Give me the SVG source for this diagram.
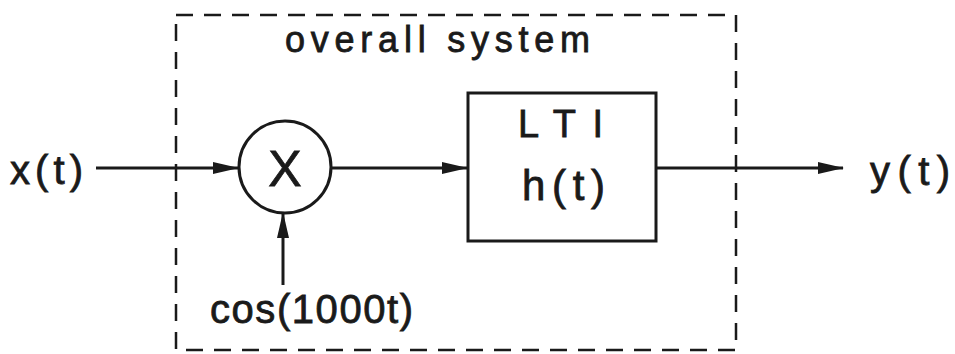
<svg xmlns="http://www.w3.org/2000/svg" width="955" height="354" viewBox="0 0 955 354">
<defs>
<style>
.ln{stroke:#1a1a1a;stroke-width:3;fill:none}
.dash{stroke:#1a1a1a;stroke-width:2.5;fill:none;stroke-dasharray:17 11}
.t{font-family:"Liberation Sans",Arial,sans-serif;fill:#1a1a1a;stroke:#1a1a1a;stroke-width:0.8}
</style>
<marker id="ah" markerWidth="26" markerHeight="14" refX="25" refY="7" orient="auto" markerUnits="userSpaceOnUse">
<path d="M0,1 L26,7 L0,13 Z" fill="#1a1a1a"/>
</marker>
</defs>
<rect width="955" height="354" fill="#ffffff"/>
<g id="overall-system">
<rect class="dash" x="176" y="15" width="560" height="335"/>
<text class="t" x="285" y="52" font-size="36" textLength="305" lengthAdjust="spacing">overall system</text>
</g>
<g id="input-x">
<text class="t" x="10" y="184" font-size="40" textLength="73" lengthAdjust="spacing">x(t)</text>
</g>
<g id="multiplier">
<circle class="ln" cx="285" cy="167" r="46"/>
<text class="t" x="285" y="186" font-size="50" text-anchor="middle">X</text>
</g>
<g id="carrier">
<text class="t" x="210" y="323" font-size="40" textLength="203" lengthAdjust="spacing">cos(1000t)</text>
</g>
<g id="lti">
<rect class="ln" x="468" y="93" width="188" height="148"/>
<text class="t" x="518" y="137" font-size="38" textLength="85" lengthAdjust="spacing">LTI</text>
<text class="t" x="522" y="200" font-size="42" textLength="83" lengthAdjust="spacing">h(t)</text>
</g>
<g id="output-y">
<text class="t" x="870" y="185" font-size="40" textLength="80" lengthAdjust="spacing">y(t)</text>
</g>
<g id="connectors">
<line class="ln" x1="96" y1="168" x2="238" y2="168" marker-end="url(#ah)"/>
<line class="ln" x1="331" y1="168" x2="467" y2="168" marker-end="url(#ah)"/>
<line class="ln" x1="656" y1="168" x2="843" y2="168" marker-end="url(#ah)"/>
<line class="ln" x1="283" y1="285" x2="283" y2="213" marker-end="url(#ah)"/>
</g>
</svg>
